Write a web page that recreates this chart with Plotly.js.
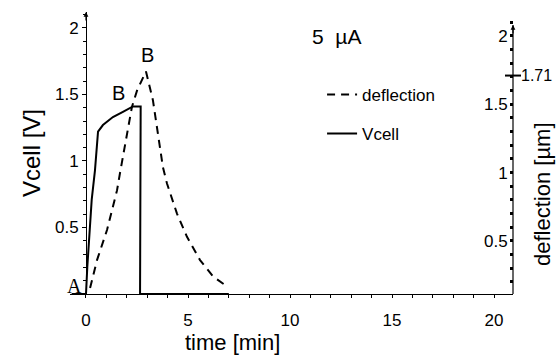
<!DOCTYPE html>
<html>
<head>
<meta charset="utf-8">
<script src="https://cdn.plot.ly/plotly-3.0.1.min.js"></script>
<style>html,body{margin:0;padding:0;background:#fff;}#chart{width:560px;height:356px;}</style>
</head>
<body>
<div id="chart"></div>
<script>
// time [min] and Vcell [V]
var vcellTime  = [-0.7, 0, 0.065, 0.2, 0.28, 0.44, 0.59, 0.83, 1.32, 1.81, 2.3, 2.68, 2.65, 7.0];
var vcellValue = [0, 0, 0.205, 0.48, 0.71, 0.93, 1.22, 1.27, 1.33, 1.37, 1.41, 1.41, 0, 0];
// time [min] and deflection [um]
var deflTime  = [0.2, 0.54, 1.03, 1.52, 1.67, 2.25, 2.5, 2.94, 3.28, 3.77, 3.97, 4.46, 4.95, 5.59, 6.23, 6.98];
var deflValue = [0.156, 0.36, 0.58, 0.87, 1.0, 1.48, 1.6, 1.74, 1.53, 1.04, 0.92, 0.70, 0.53, 0.36, 0.24, 0.16];
var xTicks = [0, 5, 10, 15, 20];
var vTicks = [0.5, 1, 1.5, 2];
var dTicks = [0.5, 1, 1.5, 2];
var peakLabel = 1.71;

var F = 'Liberation Sans, Arial, Helvetica, sans-serif';
var XR = [-0.784, 20.93], YR = [0, 2.12], Y2R = [0.112, 2.175];
var posY = (86 - 70) / 443;
var PW = 443, PH = 282, ML = 70, MT = 12;
function px(x) { return (x - ML) / PW; }
function py(y) { return (MT + PH - y) / PH; }

var traces = [
  {x: deflTime, y: deflValue, yaxis: 'y2', mode: 'lines', name: 'deflection', legendgroup: 'd',
   line: {color: '#000', width: 2, dash: '8px,6px'}},
  {x: vcellTime, y: vcellValue, mode: 'lines', name: 'Vcell', legendgroup: 'v',
   line: {color: '#000', width: 2}}
];

function ax(extra) {
  var a = {showgrid: false, zeroline: false, linecolor: '#000', linewidth: 1.2,
    tickcolor: '#000', tickfont: {family: F, size: 17, color: '#000'}};
  for (var k in extra) a[k] = extra[k];
  return a;
}

var layout = {
  width: 560, height: 356,
  margin: {l: ML, r: 560 - ML - PW, t: MT, b: 356 - MT - PH},
  paper_bgcolor: '#fff', plot_bgcolor: 'rgba(0,0,0,0)',
  font: {family: F, color: '#000'},
  showlegend: true,
  legend: {x: 0.569, y: 0.77, xanchor: 'left', yanchor: 'top', bgcolor: 'rgba(0,0,0,0)',
    font: {family: F, size: 17, color: '#000'}, tracegroupgap: 14},
  xaxis: ax({range: XR, anchor: 'y', tickmode: 'array', tickvals: xTicks, ticks: 'outside', ticklen: 3,
    ticklabelstandoff: 7, showline: true,
    minor: {tickmode: 'linear', tick0: 0, dtick: 1, ticks: 'outside', ticklen: 3, tickcolor: '#000'}}),
  xaxis2: ax({range: XR, anchor: 'y', overlaying: 'x', tickmode: 'array', tickvals: xTicks, ticks: 'inside', ticklen: 3,
    showticklabels: false, showline: false,
    minor: {tickmode: 'linear', tick0: 0, dtick: 1, ticks: 'inside', ticklen: 3, tickcolor: '#000'}}),
  yaxis: ax({range: YR, anchor: 'free', position: posY, tickmode: 'array', tickvals: vTicks,
    ticks: 'outside', ticklen: 4, showline: true,
    minor: {tickmode: 'linear', tick0: 0, dtick: 0.1, ticks: 'outside', ticklen: 3, tickcolor: '#000'},
    title: {text: 'Vcell [V]', font: {family: F, size: 24, color: '#000'}, standoff: 6}}),
  yaxis3: ax({range: YR, anchor: 'free', position: posY, overlaying: 'y', tickmode: 'array', tickvals: vTicks,
    ticks: 'inside', ticklen: 4, showticklabels: false, showline: false,
    minor: {tickmode: 'linear', tick0: 0, dtick: 0.1, ticks: 'inside', ticklen: 3, tickcolor: '#000'}}),
  yaxis2: ax({range: Y2R, anchor: 'free', position: 1, side: 'left', overlaying: 'y', tickmode: 'array', tickvals: dTicks,
    ticks: 'outside', ticklen: 2, tickwidth: 3, showline: false,
    minor: {tickmode: 'linear', tick0: 0, dtick: 0.1, ticks: 'outside', ticklen: 3, tickcolor: '#000'}}),
  yaxis4: ax({range: Y2R, anchor: 'x', side: 'right', overlaying: 'y', tickmode: 'array', tickvals: dTicks,
    ticks: 'outside', ticklen: 2, tickwidth: 3, showticklabels: false, showline: false,
    minor: {tickmode: 'linear', tick0: 0, dtick: 0.1, ticks: 'outside', ticklen: 3, tickcolor: '#000'}}),
  shapes: [
    {type: 'line', xref: 'paper', yref: 'y2', x0: 1, x1: 1, y0: Y2R[0], y1: 2.08, line: {color: '#000', width: 1.2}},
    {type: 'line', xref: 'paper', yref: 'y2', x0: 1 - 8/PW, x1: 1 + 8/PW, y0: peakLabel, y1: peakLabel, line: {color: '#000', width: 2}}
  ],
  annotations: [
    {xref: 'paper', yref: 'paper', x: px(232), y: py(342), text: 'time [min]', showarrow: false,
     xanchor: 'center', yanchor: 'middle', font: {family: F, size: 22, color: '#000'}},
    {xref: 'paper', yref: 'paper', x: px(543), y: py(194), text: 'deflection [\u00b5m]', textangle: -90, showarrow: false,
     xanchor: 'center', yanchor: 'middle', font: {family: F, size: 22, color: '#000'}},
    {xref: 'paper', yref: 'y2', x: 1 + 6/PW, y: peakLabel, text: String(peakLabel), showarrow: false,
     xanchor: 'left', yanchor: 'middle', font: {family: F, size: 16, color: '#000'}},
    {xref: 'paper', yref: 'paper', x: px(336), y: py(36), text: '5\u00a0\u00a0\u00b5A', showarrow: false,
     xanchor: 'center', yanchor: 'middle', font: {family: F, size: 21, color: '#000'}},
    {xref: 'x', yref: 'y', x: 1.57, y: 1.51, text: 'B', showarrow: false, font: {family: F, size: 20, color: '#000'}},
    {xref: 'x', yref: 'y', x: 2.99, y: 1.80, text: 'B', showarrow: false, font: {family: F, size: 20, color: '#000'}},
    {xref: 'x', yref: 'y', x: -0.54, y: 0.06, text: 'A', showarrow: false,
     font: {family: 'Liberation Serif, Times New Roman, serif', size: 20, color: '#000'}},
    {xref: 'x', yref: 'y', x: 0, y: YR[1], ax: 0, ay: 10, text: '', showarrow: true, arrowhead: 2, arrowsize: 0.8, arrowwidth: 1.2, arrowcolor: '#000'},
    {xref: 'paper', yref: 'y2', x: 1, y: 2.08, ax: 0, ay: 10, text: '', showarrow: true, arrowhead: 2, arrowsize: 0.8, arrowwidth: 1.2, arrowcolor: '#000'}
  ]
};

Plotly.newPlot('chart', traces, layout, {displayModeBar: false, staticPlot: true});
</script>
</body>
</html>
